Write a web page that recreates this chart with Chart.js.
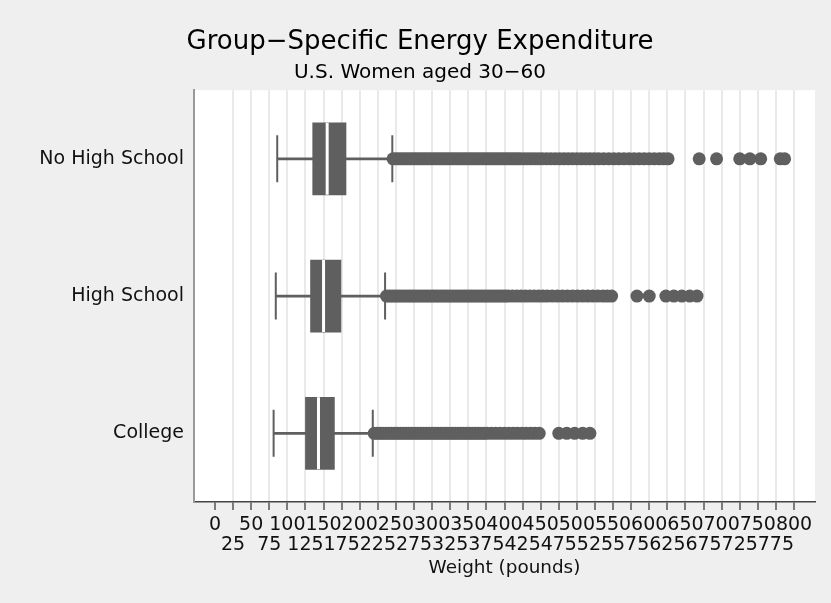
<!DOCTYPE html>
<html>
<head>
<meta charset="utf-8">
<script src="https://cdn.jsdelivr.net/npm/chart.js@4.4.0/dist/chart.umd.min.js"></script>
<style>
  html, body { margin: 0; padding: 0; background: #efefef; }
  #wrap { width: 831px; height: 603px; }
</style>
</head>
<body>
<div id="wrap"><canvas id="box"></canvas></div>
<script>
// Data
const categories = ["No High School", "High School", "College"];
const lowerWhisker = [86, 84, 81];
const q1 = [135, 132, 125];
const median = [155, 150, 143];
const q3 = [181, 174, 165];
const upperWhisker = [245, 235, 218];

const outNoHS = [246, 250, 254, 258, 262, 266, 270, 274, 278, 282, 286, 290, 294, 298, 302,
  306, 310, 314, 318, 322, 326, 330, 334, 338, 342, 346, 350, 354, 358, 362, 366, 370, 374,
  378, 382, 386, 390, 394, 398, 402, 406, 410, 414, 418, 422, 427, 432, 437, 442, 447, 452,
  458, 464, 470, 476, 482, 488, 494, 500, 506, 512, 518, 524, 530, 537, 544, 551, 558, 565,
  572, 579, 586, 593, 600, 607, 614, 620, 626, 669, 693, 725, 739, 754, 781, 787];
const outHS = [237, 241, 245, 249, 253, 257, 261, 265, 269, 273, 277, 281, 285, 289, 293,
  297, 301, 305, 309, 313, 317, 321, 325, 329, 333, 337, 341, 345, 349, 353, 357, 361, 365,
  369, 373, 377, 381, 385, 389, 393, 397, 401, 405, 411, 417, 423, 429, 435, 441, 447, 453,
  459, 466, 473, 480, 487, 494, 501, 508, 515, 522, 529, 536, 542, 548, 583, 600, 623, 634,
  645, 656, 666];
const outCollege = [220, 224, 228, 232, 236, 240, 244, 248, 252, 256, 260, 264, 268, 272,
  276, 280, 284, 288, 292, 296, 300, 304, 308, 312, 316, 320, 324, 328, 332, 336, 340, 344,
  348, 352, 356, 360, 364, 368, 372, 376, 382, 388, 394, 400, 406, 412, 418, 424, 430, 436,
  442, 448, 475, 486, 497, 508, 518];
const outliers = [outNoHS, outHS, outCollege];

const xTicks = [0, 25, 50, 75, 100, 125, 150, 175, 200, 225, 250, 275, 300, 325, 350, 375,
  400, 425, 450, 475, 500, 525, 550, 575, 600, 625, 650, 675, 700, 725, 750, 775, 800];

const FONT = "'DejaVu Sans', sans-serif";
const GREY = "#5f5f5f";

// Background: grey page, white plot region
const bgPlugin = {
  id: "bg",
  beforeDraw(chart) {
    const { ctx, chartArea: a } = chart;
    ctx.save();
    ctx.fillStyle = "#efefef";
    ctx.fillRect(0, 0, chart.width, chart.height);
    ctx.fillStyle = "#ffffff";
    ctx.fillRect(a.left, a.top, a.right - a.left, a.bottom - a.top);
    ctx.restore();
  }
};

const datasets = [];

// medians (white line through the box)
datasets.push({
  type: "scatter",
  order: 0,
  data: categories.map((c, i) => ({ x: median[i], y: c })),
  pointStyle: "line",
  rotation: 90,
  pointRadius: 36,
  borderColor: "#ffffff",
  borderWidth: 3
});

// boxes
datasets.push({
  type: "bar",
  order: 1,
  grouped: false,
  barThickness: 72,
  data: categories.map((c, i) => ({ x: [q1[i], q3[i]], y: c })),
  backgroundColor: GREY,
  borderWidth: 0
});

// whisker lines
datasets.push({
  type: "bar",
  order: 2,
  grouped: false,
  barThickness: 2,
  data: categories.map((c, i) => ({ x: [lowerWhisker[i], upperWhisker[i]], y: c })),
  backgroundColor: GREY,
  borderWidth: 0
});

// whisker caps
datasets.push({
  type: "scatter",
  order: 2,
  data: categories.flatMap((c, i) => [
    { x: lowerWhisker[i], y: c },
    { x: upperWhisker[i], y: c }
  ]),
  pointStyle: "line",
  rotation: 90,
  pointRadius: 23.5,
  borderColor: GREY,
  borderWidth: 2
});

// outside values
categories.forEach((c, i) => {
  datasets.push({
    type: "scatter",
    order: 3,
    data: outliers[i].map(v => ({ x: v, y: c })),
    pointRadius: 6.5,
    pointBackgroundColor: GREY,
    pointBorderWidth: 0
  });
});

new Chart(document.getElementById("box"), {
  type: "bar",
  data: { labels: categories, datasets },
  options: {
    indexAxis: "y",
    responsive: true,
    maintainAspectRatio: false,
    animation: false,
    events: [],
    layout: { autoPadding: false, padding: { left: 25, right: 16, top: 0, bottom: 0 } },
    plugins: {
      legend: { display: false },
      tooltip: { enabled: false },
      title: {
        display: true,
        text: "Group\u2212Specific Energy Expenditure",
        color: "#000",
        font: { family: FONT, size: 26, weight: "normal" },
        padding: { top: 27, bottom: 0 }
      },
      subtitle: {
        display: true,
        text: "U.S. Women aged 30\u221260",
        color: "#000",
        font: { family: FONT, size: 20, weight: "normal" },
        padding: { top: 3, bottom: 5 }
      }
    },
    scales: {
      x: {
        type: "linear",
        min: -29,
        max: 829,
        afterBuildTicks: scale => {
          scale.ticks = xTicks.map(v => ({ value: v }));
        },
        afterFit: scale => {
          scale.height = 101;
          scale.paddingLeft = 0;
          scale.paddingRight = 0;
        },
        ticks: {
          autoSkip: false,
          maxRotation: 0,
          minRotation: 0,
          padding: 5,
          color: "#111",
          font: { family: FONT, size: 19, lineHeight: 1.05 },
          callback: (v, i) => i % 2 === 0 ? [String(v), ""] : ["", String(v)]
        },
        grid: {
          color: ctx => (ctx.tick && ctx.tick.value === 0) ? "rgba(0,0,0,0)" : "#e9e9e9",
          lineWidth: 2,
          tickColor: "#555",
          tickWidth: 1.5,
          tickLength: 8
        },
        border: { color: "#444", width: 1.5 },
        title: {
          display: true,
          text: "Weight (pounds)",
          color: "#111",
          font: { family: FONT, size: 18.4 },
          padding: { top: 0, bottom: 24 }
        }
      },
      y: {
        type: "category",
        labels: categories,
        offset: true,
        afterFit: scale => { scale.width = 169; },
        ticks: {
          padding: 10,
          color: "#111",
          font: { family: FONT, size: 19 }
        },
        grid: { display: false, drawTicks: false },
        border: { color: "#999", width: 2 }
      }
    }
  },
  plugins: [bgPlugin]
});
</script>
</body>
</html>
